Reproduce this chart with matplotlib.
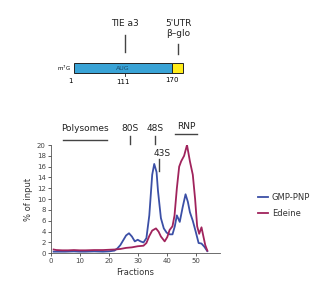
import matplotlib
matplotlib.use("Agg")
import matplotlib.pyplot as plt
from matplotlib.patches import Rectangle

# ---- data ----
blue_x = [1, 3, 5, 8, 10, 12, 15, 18, 20, 22, 23, 24, 25, 26, 27, 28, 29, 30, 31, 32, 33, 34, 35, 35.7,
          36.5, 37, 38, 39, 40, 41, 42, 42.8, 43.5, 44.5, 45.5, 46.5, 47.3, 48, 49, 50, 51, 52, 53, 54]
blue_y = [0.3, 0.3, 0.3, 0.35, 0.3, 0.3, 0.35, 0.3, 0.35, 0.5, 0.9, 1.5, 2.4, 3.3, 3.7, 3.1, 2.2, 2.5, 2.2, 2.0, 2.8, 7.0, 14.5, 16.5,
          15.0, 11.5, 6.5, 4.6, 3.8, 3.5, 3.5, 5.0, 7.0, 5.8, 8.5, 10.9, 9.5, 7.6, 6.0, 4.0, 1.9, 1.8, 1.2, 0.4]
red_x = [1, 2, 4, 6, 8, 10, 12, 15, 18, 20, 22, 24, 26, 28, 30, 32, 33, 34, 35, 36.3, 37.2, 38, 39.3, 40.2, 41, 42,
         42.7, 43.5, 44.3, 45, 46, 47, 48, 49, 49.8, 50.5, 51.2, 52, 52.7, 53.3, 54]
red_y = [0.7, 0.6, 0.55, 0.55, 0.6, 0.55, 0.55, 0.6, 0.6, 0.65, 0.7, 0.8, 1.0, 1.1, 1.3, 1.4, 1.9, 3.2, 4.2, 4.6, 4.0, 3.1, 2.2, 3.0, 4.3, 5.0,
         7.0, 12.0, 16.0, 17.0, 18.0, 20.0, 17.0, 14.5, 10.0, 5.0, 3.6, 4.8, 3.0, 1.5, 0.5]
series_names = ["GMP-PNP", "Edeine"]
colors = ["#3b4fa6", "#a0235c"]

x_ticks = [0, 10, 20, 30, 40, 50]
y_ticks = [0, 2, 4, 6, 8, 10, 12, 14, 16, 18, 20]

W, H = 321, 289
fig = plt.figure(figsize=(W / 100, H / 100), dpi=100)
fig.patch.set_facecolor("white")

def fx(px):
    return px / W

def fy(py):
    return 1 - py / H

ax_left, ax_right, ax_top, ax_bottom = 50.7, 220, 145, 253.3
ax = fig.add_axes([fx(ax_left), fy(ax_bottom), fx(ax_right - ax_left), (ax_bottom - ax_top) / H])
ax.plot(blue_x, blue_y, color=colors[0], lw=1.3, label=series_names[0])
ax.plot(red_x, red_y, color=colors[1], lw=1.3, label=series_names[1])
ax.set_xlim(0, (ax_right - ax_left) / 2.9)
ax.set_ylim(0, 20)
ax.set_xticks(x_ticks)
ax.set_yticks(y_ticks)
ax.tick_params(labelsize=5, length=2, width=0.6, pad=1.5, colors="#444444")
for s in ["top", "right"]:
    ax.spines[s].set_visible(False)
for s in ["left", "bottom"]:
    ax.spines[s].set_linewidth(0.6)
    ax.spines[s].set_color("#555555")
ax.set_xlabel("Fractions", fontsize=6, labelpad=3, color="#333333")
ax.set_ylabel("% of input", fontsize=6, labelpad=3, color="#333333")

# legend
leg = fig.legend(loc="upper left", bbox_to_anchor=(fx(250), fy(185)), frameon=False, fontsize=6,
                 handlelength=1.3, handletextpad=0.4, labelspacing=0.9)
for t in leg.get_texts():
    t.set_color("#333333")

# annotations above plot (in data coords for x)
ann = dict(color="#444444", lw=1.0, clip_on=False)
tc = "#222222"
ax.plot([4.1, 19.3], [21.0, 21.0], **ann)
ax.text(11.7, 22.3, "Polysomes", ha="center", va="bottom", fontsize=6.5, color=tc)
ax.plot([27.3, 27.3], [20.1, 21.6], **ann)
ax.text(27.3, 22.3, "80S", ha="center", va="bottom", fontsize=6.5, color=tc)
ax.plot([36, 36], [20.1, 21.6], **ann)
ax.text(36, 22.3, "48S", ha="center", va="bottom", fontsize=6.5, color=tc)
ax.plot([37.5, 37.5], [15.2, 17.4], **ann)
ax.text(38.5, 17.6, "43S", ha="center", va="bottom", fontsize=6.5, color=tc)
ax.plot([42.9, 50.6], [22.0, 22.0], **ann)
ax.text(46.8, 22.6, "RNP", ha="center", va="bottom", fontsize=6.5, color=tc)

# top construct diagram in pixel coords
ov = fig.add_axes([0, 0, 1, 1], zorder=-1)
ov.set_xlim(0, W)
ov.set_ylim(H, 0)
ov.axis("off")
ov.add_patch(Rectangle((73.5, 62.5), 98.5, 10.5, facecolor="#39a3d6", edgecolor="#222222", lw=0.7))
ov.add_patch(Rectangle((172, 62.5), 11, 10.5, facecolor="#ffec1a", edgecolor="#222222", lw=0.7))
ov.text(123, 68, "AUG", fontsize=4.5, ha="center", va="center", color="#1a4a6a")
ov.text(64, 68.5, "m$^7$G", fontsize=4, ha="center", va="center")
ov.text(70, 81, "1", fontsize=5, ha="center", va="center")
ov.plot([125, 125], [73, 76], color="#222222", lw=0.6)
ov.text(123, 82, "111", fontsize=5, ha="center", va="center")
ov.text(172, 80.5, "170", fontsize=5, ha="center", va="center")
ov.plot([125, 125], [35, 52], color="#444444", lw=1.0)
ov.text(125, 24, "TIE a3", fontsize=6.5, ha="center", va="center", color=tc)
ov.plot([178, 178], [44, 54], color="#444444", lw=1.0)
ov.text(178, 23, "5'UTR", fontsize=6.5, ha="center", va="center", color=tc)
ov.text(178, 34, "β–glo", fontsize=6.5, ha="center", va="center", color=tc)

fig.savefig("out.png", dpi=100)
